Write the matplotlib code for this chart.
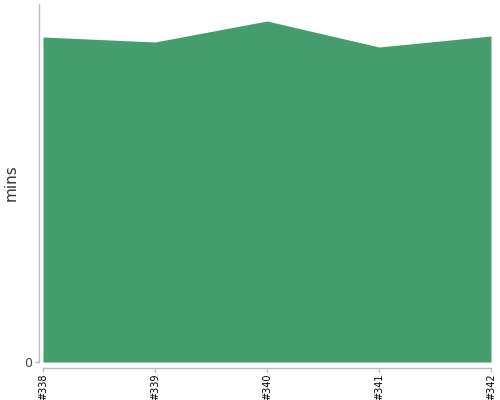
import matplotlib
matplotlib.use("Agg")
import matplotlib.pyplot as plt

builds = ["#338", "#339", "#340", "#341", "#342"]
mins = [325, 320, 341, 315, 326]

fig = plt.figure(figsize=(5, 4), dpi=100)
ax = fig.add_axes([0.086, 0.095, 0.896, 0.895])

x = range(len(builds))
ax.fill_between(x, 0, mins, color="#459c6c", linewidth=0)

ax.set_xlim(0, len(builds) - 1)
ax.set_ylim(0, 358)
ax.set_xticks(list(x))
ax.set_xticklabels(builds)
ax.set_yticks([0])
ax.set_yticklabels(["0"])
ax.set_ylabel("mins", fontsize=11, color="#333333", labelpad=4)

for s in ["top", "right"]:
    ax.spines[s].set_visible(False)
ax.spines["left"].set_position(("outward", 3))
ax.spines["bottom"].set_position(("outward", 4))
for s in ["left", "bottom"]:
    ax.spines[s].set_color("#bbbbbb")
    ax.spines[s].set_linewidth(1)
ax.tick_params(colors="#bbbbbb", length=3, width=1, pad=1)
ax.tick_params(axis="y", labelcolor="#444444", labelsize=9, pad=2)
ax.tick_params(axis="x", labelcolor="black", labelsize=7, labelrotation=90)

fig.savefig("out.png", dpi=100)
